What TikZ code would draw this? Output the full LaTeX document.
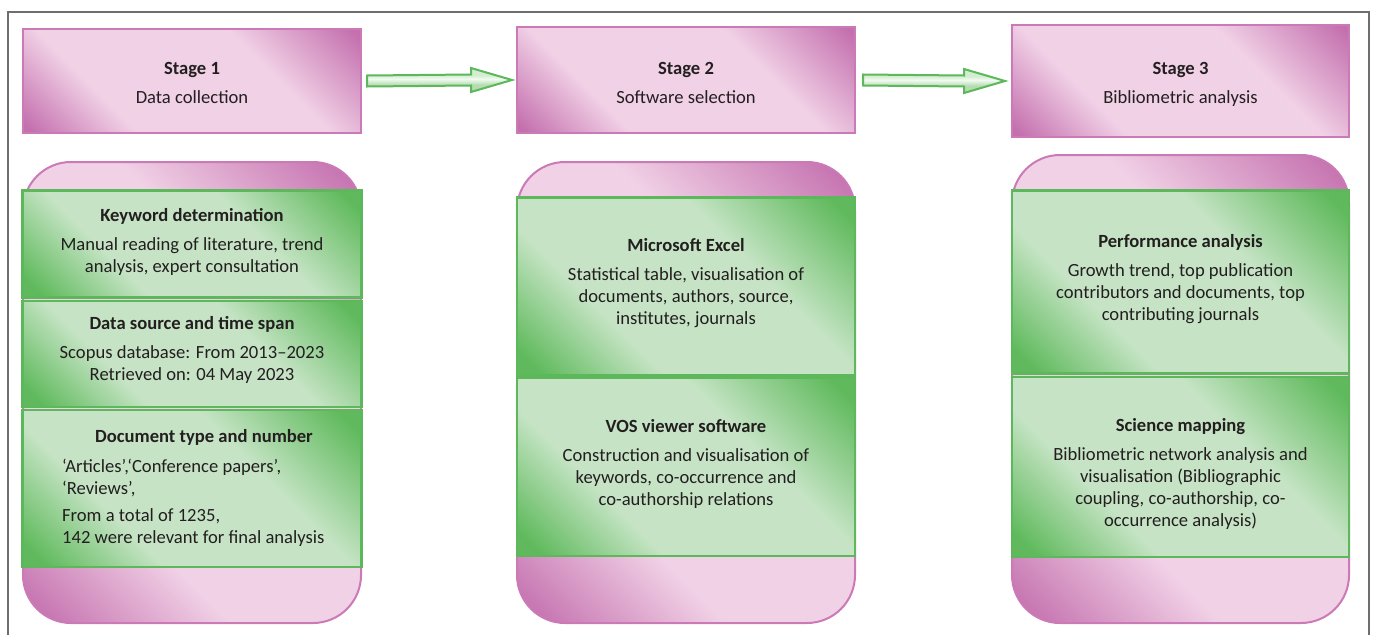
\documentclass[tikz,border=0pt]{standalone}
\usepackage{fontspec}
\setmainfont{Carlito}
\usetikzlibrary{calc}
\definecolor{pdark}{HTML}{C470AE}
\definecolor{plight}{HTML}{F1D1E6}
\definecolor{pborder}{HTML}{CB79B7}
\definecolor{gdark}{HTML}{60BA5D}
\definecolor{glight}{HTML}{C6E4C5}
\definecolor{gborder}{HTML}{5CB85A}
\definecolor{txt}{HTML}{231F20}
\definecolor{framec}{HTML}{6E6E6E}
\definecolor{atop}{HTML}{D3EDD1}
\definecolor{amid}{HTML}{F2FAF1}
\definecolor{abot}{HTML}{B3DDB0}
\pgfdeclarehorizontalshading{pinkdiag}{100bp}{color(0bp)=(pdark); color(16bp)=(pdark); color(33bp)=(plight); color(64bp)=(plight); color(84bp)=(pdark); color(100bp)=(pdark)}
\pgfdeclarehorizontalshading{greendiag}{100bp}{color(0bp)=(gdark); color(18bp)=(gdark); color(35bp)=(glight); color(62bp)=(glight); color(82bp)=(gdark); color(100bp)=(gdark)}
\pgfdeclareverticalshading{arrowshade}{100bp}{color(0bp)=(abot); color(40bp)=(abot); color(52bp)=(amid); color(60bp)=(atop); color(100bp)=(atop)}
\tikzset{
  stagebox/.style={draw=pborder, line width=2pt, shading=pinkdiag, shading angle=45, inner sep=0pt},
  panel/.style={draw=pborder, line width=2pt, shading=pinkdiag, shading angle=45, rounded corners=48pt, inner sep=0pt},
  gbox/.style={draw=gborder, line width=2.5pt, shading=greendiag, shading angle=45, inner sep=0pt},
  blockarr/.style={draw=gborder, line width=2pt, shading=arrowshade, line join=miter},
  lbl/.style={text=txt, font=\fontsize{18.6pt}{22pt}\selectfont, align=center, inner sep=0pt},
  lbll/.style={text=txt, font=\fontsize{18.6pt}{22pt}\selectfont, align=left, inner sep=0pt, anchor=west},
}
\begin{document}
\begin{tikzpicture}[x=1pt,y=-1pt]
\useasboundingbox (0,0) rectangle (1375,634);
% outer frame
\draw[framec, line width=1.5pt] (8,640) -- (8,12) -- (1369,12) -- (1369,640);
% stage boxes
\node[stagebox, minimum width=338pt, minimum height=104pt] (s1) at (192,81) {};
\node[stagebox, minimum width=338pt, minimum height=106pt] (s2) at (686,80) {};
\node[stagebox, minimum width=337pt, minimum height=112pt] (s3) at (1180.5,81) {};
% arrows
\draw[blockarr] ($(s1.east)+(5,-5.5)$) -- ($(s2.west)+(-45,-5.5)$) -- ($(s2.west)+(-45,-12)$) -- ($(s2.west)+(-4,0)$) -- ($(s2.west)+(-45,12)$) -- ($(s2.west)+(-45,5.5)$) -- ($(s1.east)+(5,5.5)$) -- cycle;
\draw[blockarr] ($(s2.east)+(7,-5.5)$) -- ($(s3.west)+(-47,-5.5)$) -- ($(s3.west)+(-47,-12)$) -- ($(s3.west)+(-6,0)$) -- ($(s3.west)+(-47,12)$) -- ($(s3.west)+(-47,5.5)$) -- ($(s2.east)+(7,5.5)$) -- cycle;
% panels
\node[panel, minimum width=338pt, minimum height=461pt] (p1) at (192,392.5) {};
\node[panel, minimum width=338pt, minimum height=461pt] (p2) at (686,392.5) {};
\node[panel, minimum width=337pt, minimum height=468pt] (p3) at (1180.5,389) {};
% green boxes
\node[gbox, minimum width=339pt, minimum height=107pt] (g11) at (192,244) {};
\node[gbox, minimum width=339pt, minimum height=106pt] (g12) at (192,354) {};
\node[gbox, minimum width=339pt, minimum height=157pt] (g13) at (192,488.5) {};
\node[gbox, minimum width=338pt, minimum height=178pt] (g21) at (686,286.5) {};
\node[gbox, minimum width=338pt, minimum height=178pt] (g22) at (686,467) {};
\node[gbox, minimum width=337pt, minimum height=183pt] (g31) at (1180.5,282) {};
\node[gbox, minimum width=337pt, minimum height=180pt] (g32) at (1180.5,467) {};
% texts
\node[lbl] (t1) at (192,82.5) {\textbf{Stage 1}\\[7pt]Data collection};
\node[lbl] (t2) at (686,82.5) {\textbf{Stage 2}\\[7pt]Software selection};
\node[lbl] (t3) at (1180.5,84.5) {\textbf{Stage 3}\\[7pt]Bibliometric analysis};
\node[lbl] (t11) at (192,241.5) {\textbf{Keyword determination}\\[7pt]Manual reading of literature, trend\\analysis, expert consultation};
\node[lbl] (t12) at (192,349.5) {\textbf{Data source and time span}\\[7pt]Scopus database: From 2013–2023\\Retrieved on: 04 May 2023};
\node[lbl] (t13h) at (204,437) {\textbf{Document type and number}};
\node[lbll] (t13) at (62,502.5) {‘Articles’,‘Conference papers’,\\‘Reviews’,\\[5pt]From a total of 1235,\\142 were relevant for final analysis};
\node[lbl] (t21) at (686,283.5) {\textbf{Microsoft Excel}\\[7pt]Statistical table, visualisation of\\documents, authors, source,\\institutes, journals};
\node[lbl] (t22) at (686,464) {\textbf{VOS viewer software}\\[7pt]Construction and visualisation of\\keywords, co-occurrence and\\co-authorship relations};
\node[lbl] (t31) at (1180.5,279) {\textbf{Performance analysis}\\[7pt]Growth trend, top publication\\contributors and documents, top\\contributing journals};
\node[lbl] (t32) at (1180.5,473.5) {\textbf{Science mapping}\\[7pt]Bibliometric network analysis and\\visualisation (Bibliographic\\coupling, co-authorship, co-\\occurrence analysis)};
\end{tikzpicture}
\end{document}
